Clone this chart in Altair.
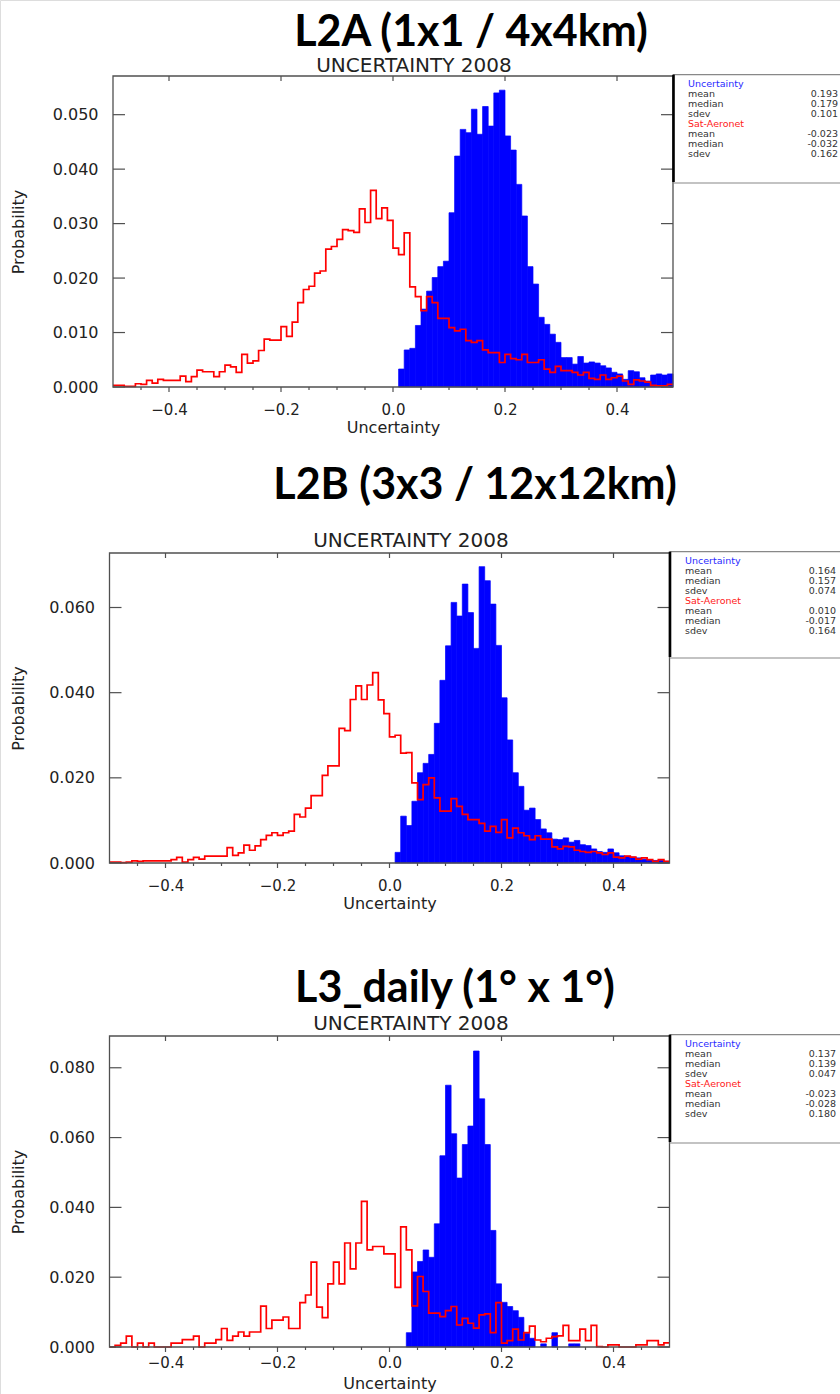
import altair as alt
import pandas as pd

# ---------------- data ----------------
BIN_START = -0.5
BIN_WIDTH = 0.01
N_BINS = 100

TITLES = ["L2A (1x1 / 4x4km)", "L2B (3x3 / 12x12km)", "L3_daily (1\u00b0 x 1\u00b0)"]
SUBTITLE = "UNCERTAINTY 2008"
X_TITLE = "Uncertainty"
Y_TITLE = "Probability"

X_TICK_LABELS = [-0.4, -0.2, 0.0, 0.2, 0.4]
X_MINOR_TICKS = [-0.45, -0.35, -0.3, -0.25, -0.15, -0.1, -0.05, 0.05, 0.1, 0.15,
                 0.25, 0.3, 0.35, 0.45]
Y_TICKS_L2A = [0.0, 0.01, 0.02, 0.03, 0.04, 0.05]
Y_TICKS_L2B = [0.0, 0.02, 0.04, 0.06]
Y_TICKS_L3 = [0.0, 0.02, 0.04, 0.06, 0.08]
Y_MAX = [0.0571, 0.0728, 0.0891]

# Uncertainty histogram (blue), bins 51..99 (bins 0..50 are empty)
L2A_UNC = [0.0] * 51 + [
    0.0033, 0.0068, 0.0071, 0.0113, 0.0143, 0.0176, 0.0201, 0.0221, 0.0231,
    0.0320, 0.0424, 0.0473, 0.0467, 0.0510, 0.0464, 0.0515, 0.0479, 0.0540, 0.0545,
    0.0461, 0.0435, 0.0372, 0.0314, 0.0221, 0.0189, 0.0128, 0.0115, 0.0097, 0.0082,
    0.0054, 0.0054, 0.0042, 0.0056, 0.0044, 0.0046, 0.0044, 0.0039, 0.0035, 0.0027,
    0.0024, 0.0014, 0.0030, 0.0028, 0.0017, 0.0011, 0.0022, 0.0024, 0.0022, 0.0024]
# Sat-Aeronet histogram (red step line), bins 0..99
L2A_SAT = [
    0.0003, 0.0003, 0.0001, 0.0001, 0.0006, 0.0005, 0.0012, 0.0007, 0.0014, 0.0012,
    0.0012, 0.0012, 0.0020, 0.0010, 0.0019, 0.0031, 0.0028, 0.0028, 0.0019, 0.0028,
    0.0040, 0.0037, 0.0027, 0.0060, 0.0044, 0.0048, 0.0067, 0.0088, 0.0086, 0.0086,
    0.0111, 0.0093, 0.0119, 0.0155, 0.0179, 0.0185, 0.0209, 0.0213, 0.0253, 0.0258,
    0.0271, 0.0289, 0.0287, 0.0284, 0.0327, 0.0302, 0.0361, 0.0309, 0.0329, 0.0306,
    0.0255, 0.0243, 0.0283, 0.0184, 0.0166, 0.0140, 0.0166, 0.0155, 0.0126, 0.0126,
    0.0109, 0.0103, 0.0106, 0.0085, 0.0082, 0.0085, 0.0068, 0.0063, 0.0063, 0.0045,
    0.0060, 0.0052, 0.0050, 0.0060, 0.0045, 0.0045, 0.0050, 0.0033, 0.0027, 0.0038,
    0.0030, 0.0030, 0.0027, 0.0022, 0.0027, 0.0016, 0.0014, 0.0022, 0.0014, 0.0017,
    0.0020, 0.0011, 0.0005, 0.0013, 0.0011, 0.0009, 0.0003, 0.0002, 0.0002, 0.0005]

L2B_UNC = [0.0] * 51 + [
    0.0025, 0.0110, 0.0088, 0.0145, 0.0212, 0.0234, 0.0255, 0.0328, 0.0429,
    0.0510, 0.0612, 0.0580, 0.0655, 0.0588, 0.0504, 0.0696, 0.0663, 0.0608, 0.0511,
    0.0388, 0.0289, 0.0212, 0.0180, 0.0124, 0.0129, 0.0102, 0.0080, 0.0071, 0.0056,
    0.0055, 0.0059, 0.0049, 0.0053, 0.0043, 0.0041, 0.0033, 0.0027, 0.0025, 0.0033,
    0.0024, 0.0017, 0.0016, 0.0014, 0.0012, 0.0009, 0.0008, 0.0006, 0.0006, 0.0004]
L2B_SAT = [
    0.0002, 0.0002, 0.0001, 0.0002, 0.0005, 0.0004, 0.0005, 0.0005, 0.0005, 0.0005,
    0.0005, 0.0008, 0.0013, 0.0002, 0.0008, 0.0013, 0.0009, 0.0016, 0.0016, 0.0016,
    0.0016, 0.0036, 0.0018, 0.0024, 0.0042, 0.0030, 0.0040, 0.0055, 0.0065, 0.0071,
    0.0065, 0.0071, 0.0075, 0.0114, 0.0108, 0.0129, 0.0158, 0.0158, 0.0206, 0.0228,
    0.0228, 0.0316, 0.0311, 0.0384, 0.0416, 0.0384, 0.0418, 0.0447, 0.0383, 0.0351,
    0.0296, 0.0300, 0.0258, 0.0259, 0.0188, 0.0149, 0.0184, 0.0200, 0.0153, 0.0122,
    0.0122, 0.0151, 0.0133, 0.0114, 0.0102, 0.0102, 0.0093, 0.0075, 0.0086, 0.0072,
    0.0102, 0.0059, 0.0082, 0.0071, 0.0064, 0.0055, 0.0064, 0.0056, 0.0056, 0.0038,
    0.0033, 0.0039, 0.0038, 0.0030, 0.0027, 0.0025, 0.0027, 0.0024, 0.0020, 0.0024,
    0.0014, 0.0012, 0.0016, 0.0014, 0.0009, 0.0012, 0.0008, 0.0004, 0.0008, 0.0004]

L3_UNC = [0.0] * 53 + [
    0.0041, 0.0215, 0.0245, 0.0278, 0.0257, 0.0353, 0.0548, 0.0750, 0.0611, 0.0484,
    0.0580, 0.0633, 0.0848, 0.0711, 0.0580, 0.0334, 0.0181, 0.0128, 0.0116, 0.0104,
    0.0085, 0.0039, 0.0025, 0.0, 0.0009, 0.0, 0.0041, 0.0, 0.0, 0.0009,
    0.0009] + [0.0] * 16
L3_SAT = [
    0.0, 0.0005, 0.0011, 0.0031, 0.0, 0.0011, 0.0, 0.0011, 0.0, 0.0,
    0.0, 0.0011, 0.0011, 0.0021, 0.0021, 0.0031, 0.0, 0.0011, 0.0011, 0.0021,
    0.0053, 0.0019, 0.0031, 0.0043, 0.0031, 0.0043, 0.0043, 0.0117, 0.0053, 0.0077,
    0.0077, 0.0086, 0.0053, 0.0053, 0.0127, 0.0149, 0.0243, 0.0114, 0.0084, 0.0181,
    0.0243, 0.0181, 0.0298, 0.0224, 0.0298, 0.0417, 0.0278, 0.0288, 0.0288, 0.0267,
    0.0267, 0.0171, 0.0344, 0.0278, 0.0118, 0.0202, 0.0159, 0.0097, 0.0097, 0.0087,
    0.0104, 0.0116, 0.0063, 0.0082, 0.0068, 0.0054, 0.0092, 0.0095, 0.0041, 0.0127,
    0.0011, 0.0018, 0.0051, 0.0020, 0.0041, 0.0060, 0.0020, 0.0015, 0.0025, 0.0030,
    0.0032, 0.0062, 0.0018, 0.0018, 0.0051, 0.0018, 0.0062, 0.0001, 0.0, 0.0006,
    0.0006, 0.0, 0.0, 0.0, 0.0006, 0.0006, 0.0018, 0.0018, 0.0006, 0.0012]

LEGEND_GROUPS = ["Uncertainty", "Sat-Aeronet"]
STAT_NAMES = ["mean", "median", "sdev"]
L2A_STATS = [["0.193", "0.179", "0.101"], ["-0.023", "-0.032", "0.162"]]
L2B_STATS = [["0.164", "0.157", "0.074"], ["0.010", "-0.017", "0.164"]]
L3_STATS = [["0.137", "0.139", "0.047"], ["-0.023", "-0.028", "0.180"]]

# ---------------- layout / style ----------------
W, H = 840, 1394
BLUE = "#0000ff"
RED = "#ff0000"
AX = "#505050"
TXT = "#222222"
FONT = "DejaVu Sans"

LAYOUT = [
    dict(left=113, right=673, top=76, bottom=387, title_x=471, title_y=46,
         sub_x=414, sub_y=72, lab_pad=15, xt_y=40, leg_h=107, leg_x=688, val_x=838),
    dict(left=109.5, right=669.5, top=553, bottom=863, title_x=475, title_y=499,
         sub_x=411, sub_y=547, lab_pad=15, xt_y=40, leg_h=105, leg_x=685, val_x=836),
    dict(left=109.5, right=669.5, top=1036, bottom=1347, title_x=455, title_y=1002,
         sub_x=411, sub_y=1030, lab_pad=8, xt_y=36, leg_h=107, leg_x=685, val_x=836),
]

PANELS = [
    (L2A_UNC, L2A_SAT, Y_TICKS_L2A, L2A_STATS),
    (L2B_UNC, L2B_SAT, Y_TICKS_L2B, L2B_STATS),
    (L3_UNC, L3_SAT, Y_TICKS_L3, L3_STATS),
]


def panel_layers(k):
    unc, sat, yticks, stats = PANELS[k]
    L = LAYOUT[k]
    xs = alt.Scale(domain=[-0.5, 0.5], range=[L["left"], L["right"]], nice=False, zero=False)
    ys = alt.Scale(domain=[0, Y_MAX[k]], range=[L["bottom"], L["top"]], nice=False, zero=False)

    edges = [round(BIN_START + i * BIN_WIDTH, 4) for i in range(N_BINS + 1)]
    bars = pd.DataFrame({"x0": edges[:-1], "x1": edges[1:], "v": unc, "z": 0.0})
    bars = bars[bars["v"] > 0]
    line = pd.DataFrame({"x": edges, "v": list(sat) + [sat[-1]], "i": list(range(N_BINS + 1))})

    layers = []
    layers.append(
        alt.Chart(bars).mark_rect(color=BLUE, stroke=BLUE, strokeWidth=0.7).encode(
            x=alt.X("x0:Q", scale=xs, axis=None), x2="x1:Q",
            y=alt.Y("v:Q", scale=ys, axis=None), y2="z:Q"))

    xaxis = alt.Axis(values=X_TICK_LABELS, format=".1f", orient="bottom",
                     offset=L["bottom"] - H, domain=False, ticks=False, tickSize=0, grid=False,
                     labelFont=FONT, labelFontSize=15, labelColor=TXT,
                     labelPadding=L["lab_pad"], labelFlush=False,
                     title=X_TITLE, titleFont=FONT, titleFontSize=16, titleFontWeight="normal",
                     titleColor=TXT, titleY=L["xt_y"], titleBaseline="middle")
    yaxis = alt.Axis(values=yticks, format=".3f", orient="left", offset=-L["left"],
                     domain=False, ticks=False, tickSize=0, grid=False,
                     labelFont=FONT, labelFontSize=16, labelColor=TXT, labelPadding=15,
                     title=Y_TITLE, titleFont=FONT, titleFontSize=16, titleFontWeight="normal",
                     titleColor=TXT, titleX=18 - L["left"], titleBaseline="middle",
                     titleAlign="center", titleAngle=270)
    layers.append(
        alt.Chart(line).mark_line(color=RED, strokeWidth=1.7, interpolate="step-after").encode(
            x=alt.X("x:Q", scale=xs, axis=xaxis),
            y=alt.Y("v:Q", scale=ys, axis=yaxis),
            order="i:Q"))

    # plot frame
    frame = pd.DataFrame({"x0": [-0.5], "x1": [0.5], "y0": [0.0], "y1": [Y_MAX[k]]})
    layers.append(
        alt.Chart(frame).mark_rect(fillOpacity=0, stroke=AX, strokeWidth=1.3).encode(
            x=alt.X("x0:Q", scale=xs, axis=None), x2="x1:Q",
            y=alt.Y("y0:Q", scale=ys, axis=None), y2="y1:Q"))

    # y ticks (inward, both sides)
    ydf = pd.DataFrame({"t": yticks})
    for xa, xb in [(L["left"], L["left"] + 12), (L["right"] - 12, L["right"])]:
        layers.append(
            alt.Chart(ydf).mark_rule(color=AX, strokeWidth=1.2).encode(
                y=alt.Y("t:Q", scale=ys, axis=None), x=alt.value(xa), x2=alt.value(xb)))
    # x ticks: top major inward, bottom major and minor
    xmaj = pd.DataFrame({"t": X_TICK_LABELS})
    xmin = pd.DataFrame({"t": X_MINOR_TICKS})
    for df, ya, yb in [(xmaj, L["top"], L["top"] + 5),
                       (xmaj, L["bottom"], L["bottom"] + 5),
                       (xmin, L["bottom"], L["bottom"] + 3)]:
        layers.append(
            alt.Chart(df).mark_rule(color=AX, strokeWidth=1.2).encode(
                x=alt.X("t:Q", scale=xs, axis=None), y=alt.value(ya), y2=alt.value(yb)))

    # statistics box
    rows = []
    r = 0
    for g, grp in enumerate(LEGEND_GROUPS):
        rows.append(dict(row=r, label=grp, value="", kind=grp))
        r += 1
        for s, name in enumerate(STAT_NAMES):
            rows.append(dict(row=r, label=name, value=stats[g][s], kind="stat"))
            r += 1
    leg = pd.DataFrame(rows)
    ry = alt.Scale(domain=list(range(8)), range=[L["top"] + 7.5, L["top"] + 77.5], padding=0)
    col = alt.Color("kind:N", scale=alt.Scale(domain=["Uncertainty", "Sat-Aeronet", "stat"],
                                              range=["#2a2aff", "#ff2020", "#333333"]),
                    legend=None)
    layers.append(
        alt.Chart(leg).mark_text(font=FONT, fontSize=9.5, align="left", baseline="middle").encode(
            x=alt.value(L["leg_x"]), y=alt.Y("row:O", scale=ry, axis=None),
            text="label:N", color=col))
    layers.append(
        alt.Chart(leg).mark_text(font=FONT, fontSize=9.5, align="right", baseline="middle",
                                 color="#333333").encode(
            x=alt.value(L["val_x"]), y=alt.Y("row:O", scale=ry, axis=None), text="value:N"))
    one = pd.DataFrame({"a": [0]})
    layers.append(alt.Chart(one).mark_rule(color="#888888", strokeWidth=1.2).encode(
        x=alt.value(L["right"]), x2=alt.value(W), y=alt.value(L["top"] - 1.3)))
    layers.append(alt.Chart(one).mark_rule(color="#888888", strokeWidth=1.2).encode(
        x=alt.value(L["right"]), x2=alt.value(W), y=alt.value(L["top"] + L["leg_h"])))
    layers.append(alt.Chart(one).mark_rule(color="black", strokeWidth=2.6).encode(
        x=alt.value(L["right"] + 0.5), y=alt.value(L["top"] - 1.3),
        y2=alt.value(L["top"] + L["leg_h"] - 1)))

    # titles
    tdf = pd.DataFrame({"t": [TITLES[k]], "s": [SUBTITLE]})
    layers.append(alt.Chart(tdf).mark_text(font="Lato", fontSize=43, fontWeight="bold",
                                           align="center", baseline="alphabetic",
                                           color="black").encode(
        text="t:N", x=alt.value(L["title_x"]), y=alt.value(L["title_y"])))
    layers.append(alt.Chart(tdf).mark_text(font=FONT, fontSize=20, align="center",
                                           baseline="alphabetic", color=TXT).encode(
        text="s:N", x=alt.value(L["sub_x"]), y=alt.value(L["sub_y"])))
    return layers


all_layers = []
for k in range(3):
    all_layers += panel_layers(k)

chart = alt.layer(*all_layers).resolve_scale(
    x="independent", y="independent", color="independent"
).properties(
    width=W, height=H, padding=0,
    autosize=alt.AutoSizeParams(type="none")
).configure_view(stroke=None).configure(background="white")

chart.save("out.html", embed_options={"renderer": "svg", "actions": False})
